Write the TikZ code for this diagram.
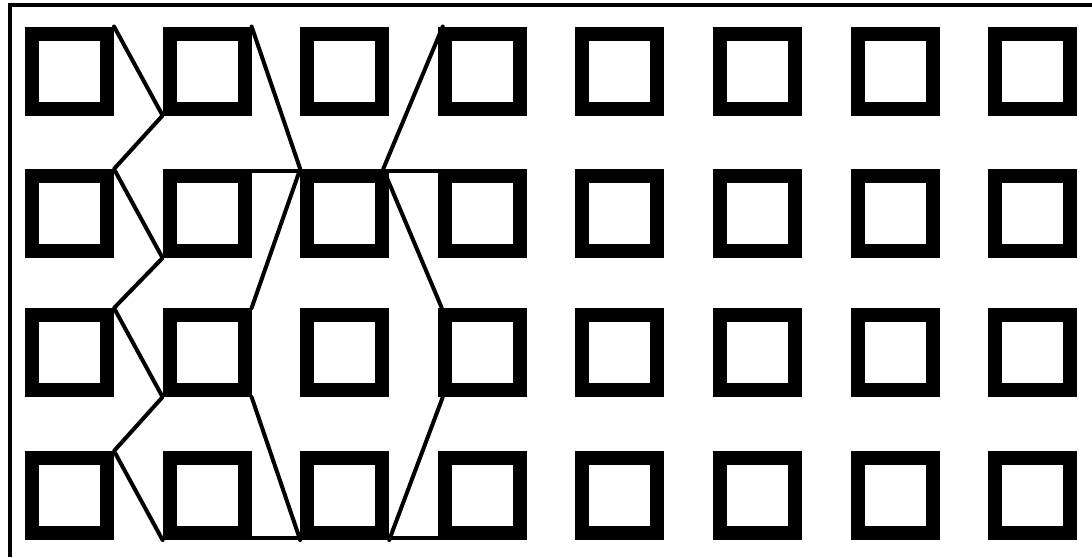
\documentclass[tikz,border=0pt]{standalone}
\usetikzlibrary{calc}
\begin{document}
\begin{tikzpicture}[x=1pt,y=-1pt,
  sq/.style={draw=black,line width=14pt,minimum size=75pt,inner sep=0pt,outer sep=7pt,fill=white},
  link/.style={draw=black,line width=4pt,line cap=round,line join=round},
  frame/.style={draw=black,line width=4pt}]
\useasboundingbox (0,0) rectangle (1092,557);
% frame (top and left only)
\coordinate (tl) at (10.3,5.3);
\coordinate (tr) at (1092,5.3);
\coordinate (bl) at (10.3,557);
\draw[frame] (tr) -- (tl) -- (bl);
% grid of squares
\foreach \r/\y in {1/71,2/213.5,3/352.5,4/495.5}{
  \foreach \c in {1,...,8}{
    \node[sq] (s\r\c) at ({69.5+137.6*(\c-1)},\y) {};
  }
}
% left zigzag
\draw[link] (s11.north east) -- (s12.south west) -- (s21.north east) -- (s22.south west)
  -- (s31.north east) -- (s32.south west) -- (s41.north east) -- (s42.south west);
% middle left side
\draw[link] (s12.north east) -- (s23.north west) -- (s32.north east);
\draw[link] (s32.south east) -- (s43.south west);
% middle right side
\draw[link] ($(s14.north west)+(5,0)$) -- ($(s23.north east)+(-6,0)$) -- ($(s34.north west)+(4,0)$);
\draw[link] ($(s34.south west)+(5,0)$) -- (s43.south east);
% horizontal lines
\draw[link] ($(s22.north east)+(-2,2)$) -- ($(s24.north west)+(0,2)$);
\draw[link] ($(s42.south east)+(0,-2)$) -- ($(s44.south west)+(20,-2)$);
\end{tikzpicture}
\end{document}
